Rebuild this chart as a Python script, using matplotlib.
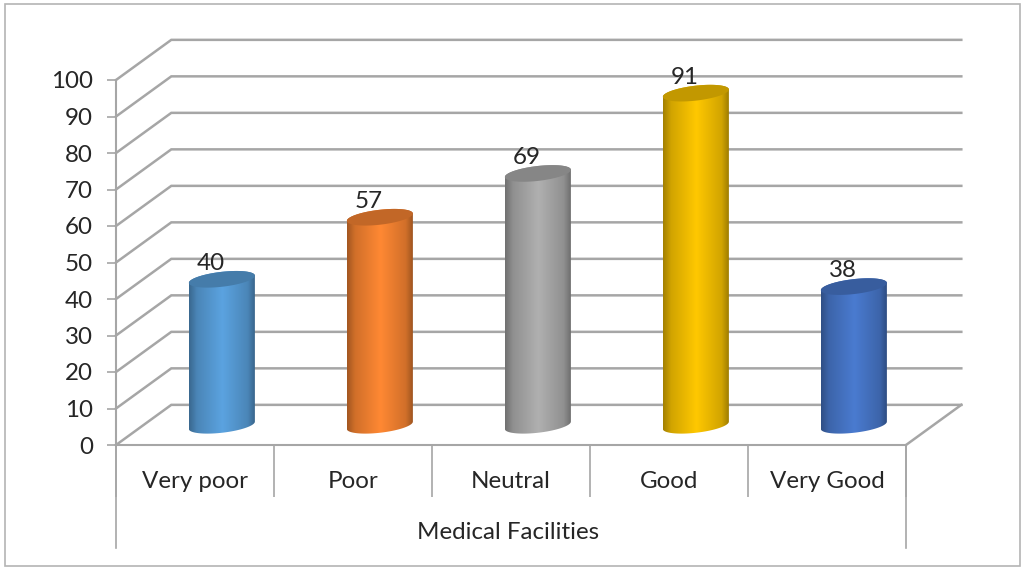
import numpy as np
import matplotlib
matplotlib.use('Agg')
import matplotlib.pyplot as plt
from matplotlib.colors import to_rgb
from matplotlib.patches import Polygon, Rectangle

categories = ['Very poor', 'Poor', 'Neutral', 'Good', 'Very Good']
values = [40, 57, 69, 91, 38]
bar_colors = ['#5ba3e0', '#ff8833', '#b0b0b0', '#ffc800', '#4a7bd0']
y_ticks = [0, 10, 20, 30, 40, 50, 60, 70, 80, 90, 100]
group_label = 'Medical Facilities'

grid_color = '#a6a6a6'
text_color = '#262626'
font_size = 17.4

# depth of the fake 3d box, in data units (55px right, 40px up)
depth_x = 0.35
depth_y = 11.0
# cylinder shape, data units
half_w = 0.209
tilt = 1.0
minor_r = 2.05

plt.rcParams['font.family'] = ['Lato', 'DejaVu Sans']

fig = plt.figure(figsize=(10.21, 5.67), dpi=100)
ax = fig.add_axes([116 / 1021, (567 - 445) / 567, 790 / 1021, 365 / 567])
ax.patch.set_alpha(0)


def ellipse_xy(cx, cy, t):
    return cx + half_w * np.cos(t), cy + tilt * np.cos(t) + minor_r * np.sin(t)


# walls and floor
for v in y_ticks:
    ax.plot([-0.5, -0.5 + depth_x, 4.5 + depth_x], [v, v + depth_y, v + depth_y],
            color=grid_color, lw=1.8, clip_on=False, zorder=1, solid_joinstyle='miter')
ax.plot([4.5, 4.5 + depth_x], [0, depth_y], color=grid_color, lw=1.8, clip_on=False, zorder=1)

# cylinders
shade_pos = [0, 0.12, 0.5, 0.88, 1]
shade_val = [0.64, 0.82, 1.0, 0.82, 0.6]
s = np.interp(np.linspace(0, 1, 128), shade_pos, shade_val)
for i, (val, col) in enumerate(zip(values, bar_colors)):
    cx = i + depth_x / 2 - 0.005
    y0 = depth_y / 2 - 0.1
    y1 = val + y0
    rgb = np.array(to_rgb(col))
    strip = np.clip(s[None, :, None] * rgb[None, None, :], 0, 1)

    low = np.linspace(np.pi, 2 * np.pi, 40)
    high = np.linspace(0, np.pi, 40)
    bx, by = ellipse_xy(cx, y0, low)
    tx, ty = ellipse_xy(cx, y1, high)
    body = Polygon(np.column_stack([np.r_[bx, tx], np.r_[by, ty]]), closed=True,
                   facecolor='none', edgecolor='none', transform=ax.transData)
    ax.add_patch(body)
    im = ax.imshow(strip, extent=[cx - half_w, cx + half_w, y0 - 4, y1 + 4],
                   aspect='auto', zorder=3, interpolation='bilinear')
    im.set_clip_path(body)

    t = np.linspace(0, 2 * np.pi, 80)
    ex, ey = ellipse_xy(cx, y1, t)
    ax.add_patch(Polygon(np.column_stack([ex, ey]), closed=True, facecolor=rgb * 0.76,
                         edgecolor='none', zorder=4))

    ax.text(cx - 0.07, y1 + 4.4, str(val), ha='center', va='center',
            fontsize=font_size, color=text_color, zorder=5)

ax.set_xlim(-0.5, 4.5)
ax.set_ylim(0, 100)

# axes
for name in ['top', 'right']:
    ax.spines[name].set_visible(False)
for name in ['left', 'bottom']:
    ax.spines[name].set_color(grid_color)
    ax.spines[name].set_linewidth(1.5)
    ax.spines[name].set_zorder(2)

ax.set_yticks(y_ticks)
ax.tick_params(axis='y', length=6.5, width=1.2, color=grid_color, pad=10,
               labelsize=font_size, labelcolor=text_color)
for lab in ax.get_yticklabels():
    lab.set_va('center_baseline')

ax.set_xticks(np.arange(len(categories) + 1) - 0.5)
ax.set_xticklabels([])
ax.tick_params(axis='x', which='major', length=37.5, width=1.2, color=grid_color)
ax.set_xticks(np.arange(len(categories)), minor=True)
ax.set_xticklabels(categories, minor=True)
ax.tick_params(axis='x', which='minor', length=0, pad=18.5, labelsize=font_size, labelcolor=text_color)

# group bracket below the category row
ax.plot([-0.5, -0.5], [0, -28.2], color=grid_color, lw=1.2, clip_on=False)
ax.plot([4.5, 4.5], [0, -28.2], color=grid_color, lw=1.2, clip_on=False)
ax.text(1.98, -23.9, group_label, ha='center', va='center', fontsize=font_size, color=text_color)

# chart border
fig.add_artist(Rectangle((4.5 / 1021, 1 - 565.5 / 567), 1015 / 1021, 562 / 567,
                         transform=fig.transFigure, fill=False, edgecolor='#b4b4b4', lw=1.2))

fig.savefig('out.png', dpi=100, facecolor='white')
